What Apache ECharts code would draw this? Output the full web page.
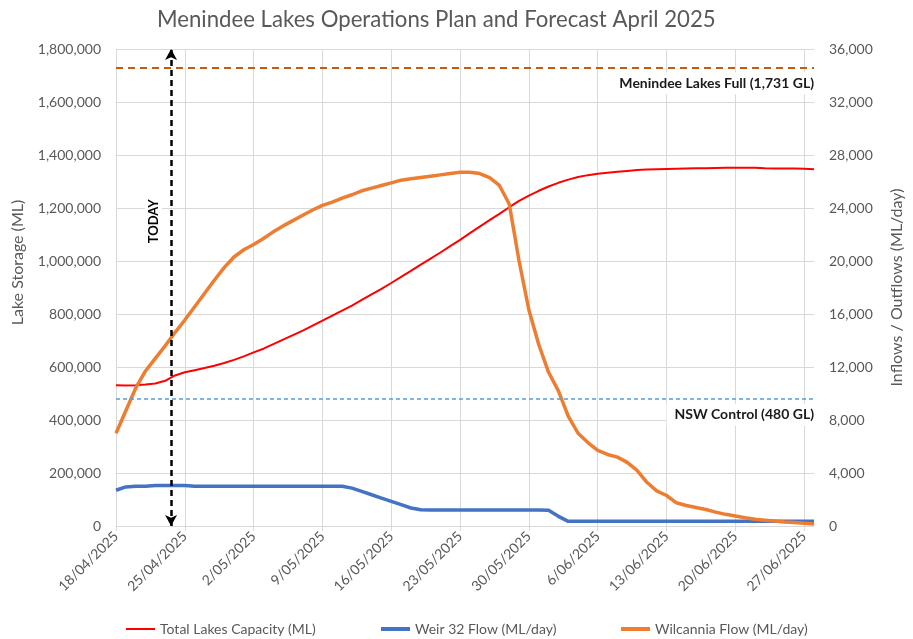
<!DOCTYPE html>
<html>
<head>
<meta charset="utf-8">
<title>Menindee Lakes Operations Plan and Forecast April 2025</title>
<script src="https://cdn.jsdelivr.net/npm/echarts@6/dist/echarts.min.js"></script>
<style>
  html, body { margin: 0; padding: 0; background: #fff; }
  #chart { width: 913px; height: 639px; }
</style>
</head>
<body>
<div id="chart"></div>
<script>
// daily categories 18/04/2025 .. 28/06/2025
const dates = [
  '18/04/2025', '19/04/2025', '20/04/2025', '21/04/2025', '22/04/2025', '23/04/2025', '24/04/2025',
  '25/04/2025', '26/04/2025', '27/04/2025', '28/04/2025', '29/04/2025', '30/04/2025', '1/05/2025',
  '2/05/2025', '3/05/2025', '4/05/2025', '5/05/2025', '6/05/2025', '7/05/2025', '8/05/2025',
  '9/05/2025', '10/05/2025', '11/05/2025', '12/05/2025', '13/05/2025', '14/05/2025', '15/05/2025',
  '16/05/2025', '17/05/2025', '18/05/2025', '19/05/2025', '20/05/2025', '21/05/2025', '22/05/2025',
  '23/05/2025', '24/05/2025', '25/05/2025', '26/05/2025', '27/05/2025', '28/05/2025', '29/05/2025',
  '30/05/2025', '31/05/2025', '1/06/2025', '2/06/2025', '3/06/2025', '4/06/2025', '5/06/2025',
  '6/06/2025', '7/06/2025', '8/06/2025', '9/06/2025', '10/06/2025', '11/06/2025', '12/06/2025',
  '13/06/2025', '14/06/2025', '15/06/2025', '16/06/2025', '17/06/2025', '18/06/2025', '19/06/2025',
  '20/06/2025', '21/06/2025', '22/06/2025', '23/06/2025', '24/06/2025', '25/06/2025', '26/06/2025',
  '27/06/2025', '28/06/2025'
]

// Total Lakes Capacity (ML) - left axis
const totalCapacity = [
  531000, 530000, 531000, 534000, 538000, 548000, 568000, 580000, 588000, 596000,
  605000, 615000, 627000, 640000, 655000, 669000, 686000, 703000, 720000, 737000,
  756000, 775000, 794000, 813000, 832000, 853000, 874000, 895000, 917000, 940000,
  963000, 986000, 1009000, 1032000, 1056000, 1080000, 1105000, 1130000, 1154000, 1178000,
  1203000, 1227000, 1247000, 1265000, 1281000, 1295000, 1307000, 1317000, 1324000, 1329000,
  1333000, 1337000, 1340000, 1343000, 1345000, 1346000, 1347000, 1348000, 1349000, 1350000,
  1350000, 1351000, 1352000, 1352000, 1352000, 1352000, 1350000, 1349000, 1349000, 1349000,
  1348000, 1346000
]

// Weir 32 Flow (ML/day) - right axis
const weir32Flow = [
  2700, 2950, 3000, 3000, 3050, 3050, 3050, 3050, 3000, 3000,
  3000, 3000, 3000, 3000, 3000, 3000, 3000, 3000, 3000, 3000,
  3000, 3000, 3000, 3000, 2860, 2610, 2360, 2110, 1860, 1610,
  1360, 1220, 1200, 1200, 1200, 1200, 1200, 1200, 1200, 1200,
  1200, 1200, 1200, 1200, 1180, 730, 350, 350, 350, 350,
  350, 350, 350, 350, 350, 350, 350, 350, 350, 350,
  350, 350, 350, 350, 350, 350, 350, 350, 350, 350,
  350, 350
]

// Wilcannia Flow (ML/day) - right axis
const wilcanniaFlow = [
  7000, 8700, 10400, 11700, 12650, 13600, 14600, 15550, 16550, 17550,
  18550, 19500, 20300, 20850, 21250, 21700, 22200, 22650, 23050, 23450,
  23850, 24200, 24450, 24750, 25000, 25300, 25500, 25700, 25900, 26100,
  26200, 26300, 26400, 26500, 26600, 26700, 26700, 26600, 26300, 25700,
  24300, 20000, 16300, 13700, 11600, 10200, 8300, 7000, 6300, 5700,
  5400, 5200, 4800, 4200, 3300, 2650, 2300, 1750, 1550, 1400,
  1250, 1050, 880, 750, 620, 510, 440, 370, 310, 270,
  210, 160
]

// reference levels (ML) and the "today" marker (day offset from 18/04)
const fullStorage = 1731000
const nswControl = 480000
const todayPos = 5.6
const todayLabelPos = [3.8, 1150000]

const font = 'Lato, "Open Sans", sans-serif'
const grey = '#595959'
const gridColor = '#d9d9d9'

const withCommas = v => String(v).replace(/\B(?=(\d{3})+(?!\d))/g, ',')

const chart = echarts.init(document.getElementById('chart'))

const legendItem = (name, left, height) => ({
  data: [name],
  left: left,
  top: 617,
  icon: 'rect',
  itemWidth: 29,
  itemHeight: height,
  selectedMode: false,
  textStyle: { fontFamily: font, fontSize: 14, color: grey }
})

const option = {
  animation: false,
  backgroundColor: '#fff',
  title: {
    text: 'Menindee Lakes Operations Plan and Forecast April 2025',
    left: 152,
    top: 4,
    textStyle: { fontFamily: font, fontSize: 22.2, fontWeight: 'normal', color: grey }
  },
  legend: [
    legendItem('Total Lakes Capacity (ML)', 121, 2),
    legendItem('Weir 32 Flow (ML/day)', 376, 4),
    legendItem('Wilcannia Flow (ML/day)', 616, 4)
  ],
  grid: { left: 116, right: 93, top: 49, bottom: 113 },
  xAxis: [
    {
      type: 'category',
      data: dates,
      boundaryGap: false,
      axisLine: { lineStyle: { color: gridColor } },
      axisTick: { show: true, interval: 6, length: 5, lineStyle: { color: gridColor } },
      axisLabel: {
        interval: 6, rotate: 45, margin: 8,
        fontFamily: font, fontSize: 14, color: grey
      },
      splitLine: { show: true, interval: 6, lineStyle: { color: gridColor } }
    },
    // hidden helper axis so the TODAY marker can sit between two days
    { type: 'value', min: 0, max: dates.length - 1, show: false }
  ],
  yAxis: [
    {
      type: 'value',
      min: 0,
      max: 1800000,
      interval: 200000,
      name: 'Lake Storage (ML)',
      nameLocation: 'middle',
      nameGap: 90,
      nameTextStyle: { fontFamily: font, fontSize: 16, color: grey, padding: [0, 0, 0, 50] },
      axisLine: { show: false },
      axisTick: { show: false },
      axisLabel: { formatter: withCommas, margin: 15, fontFamily: font, fontSize: 14, color: grey },
      splitLine: { lineStyle: { color: gridColor } }
    },
    {
      type: 'value',
      min: 0,
      max: 36000,
      interval: 4000,
      name: 'Inflows / Outflows (ML/day)',
      nameLocation: 'middle',
      nameGap: 75,
      nameTextStyle: { fontFamily: font, fontSize: 16, color: grey },
      axisLine: { show: false },
      axisTick: { show: false },
      axisLabel: { formatter: withCommas, margin: 15, fontFamily: font, fontSize: 14, color: grey },
      splitLine: { show: false }
    }
  ],
  series: [
    {
      name: 'Total Lakes Capacity (ML)',
      type: 'line',
      data: totalCapacity,
      yAxisIndex: 0,
      showSymbol: false,
      color: '#ff0000',
      lineStyle: { width: 2 },
      markLine: {
        silent: true,
        symbol: 'none',
        label: {
          position: 'insideEndBottom',
          distance: [0, 5],
          fontFamily: font,
          fontSize: 14,
          fontWeight: 'bold',
          color: '#1a1a1a',
          backgroundColor: '#fff',
          padding: [4, 0, 4, 8]
        },
        data: [
          {
            yAxis: fullStorage,
            lineStyle: { color: '#c55a11', type: [7, 5], width: 2 },
            label: { formatter: 'Menindee Lakes Full (1,731 GL)' }
          },
          {
            yAxis: nswControl,
            lineStyle: { color: '#5b9bd5', type: [4, 3], width: 1.5 },
            label: { formatter: 'NSW Control (480 GL)' }
          }
        ]
      }
    },
    {
      name: 'Weir 32 Flow (ML/day)',
      type: 'line',
      data: weir32Flow,
      yAxisIndex: 1,
      showSymbol: false,
      color: '#4472c4',
      lineStyle: { width: 3.5 }
    },
    {
      name: 'Wilcannia Flow (ML/day)',
      type: 'line',
      data: wilcanniaFlow,
      yAxisIndex: 1,
      showSymbol: false,
      color: '#ed7d31',
      lineStyle: { width: 3.5 }
    },
    {
      name: 'today',
      type: 'line',
      xAxisIndex: 1,
      yAxisIndex: 0,
      data: [],
      markLine: {
        silent: true,
        symbol: ['arrow', 'arrow'],
        symbolSize: [9, 11],
        lineStyle: { color: '#000', type: [6, 4], width: 2.5 },
        label: { show: false },
        data: [{ xAxis: todayPos }]
      },
      markPoint: {
        silent: true,
        symbol: 'rect',
        symbolSize: 0,
        label: {
          show: true,
          position: 'inside',
          formatter: 'TODAY',
          rotate: 90,
          fontFamily: font,
          fontSize: 13,
          fontWeight: 'bold',
          color: '#000',
          backgroundColor: '#fff',
          padding: [2, 8]
        },
        data: [{ coord: todayLabelPos }]
      }
    }
  ]
}

chart.setOption(option)
window.addEventListener('resize', () => chart.resize())
</script>
</body>
</html>
